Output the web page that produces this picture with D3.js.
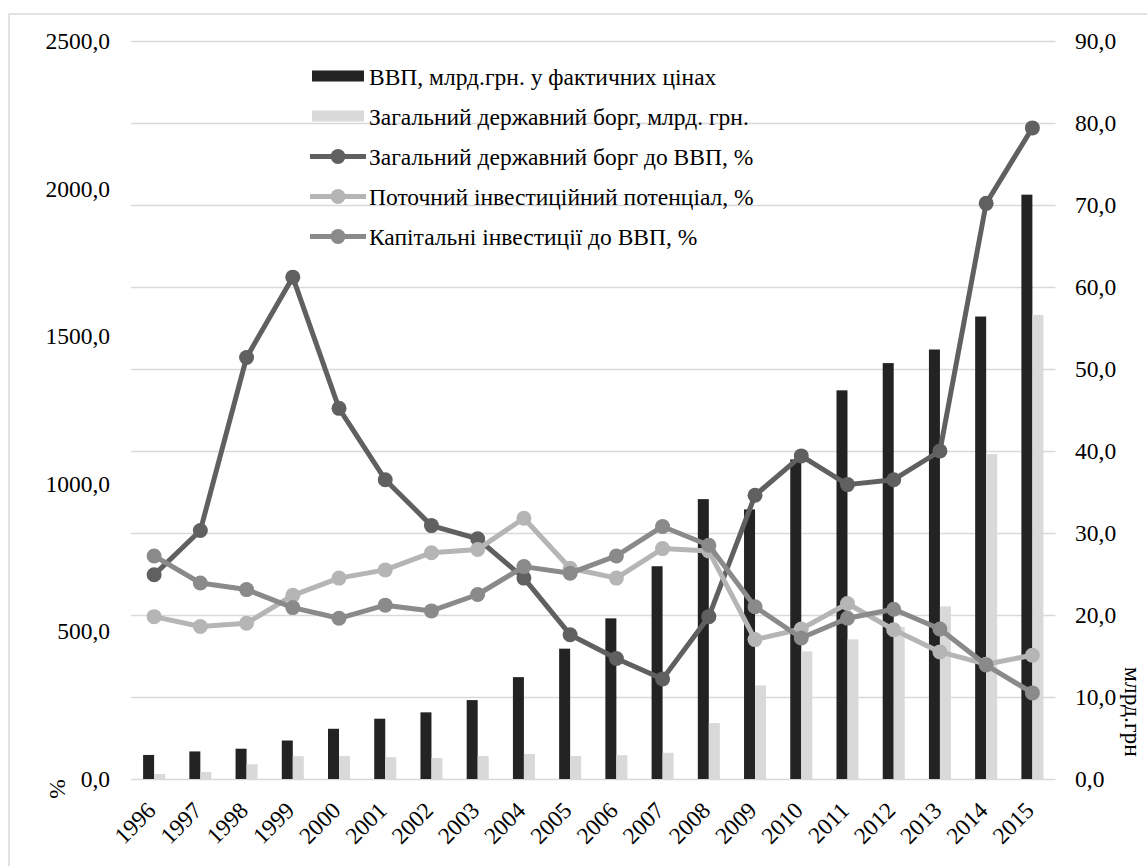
<!DOCTYPE html>
<html>
<head>
<meta charset="utf-8">
<script src="https://cdn.jsdelivr.net/npm/d3@7"></script>
<style>
  html, body { margin: 0; padding: 0; background: #fff; }
  svg { display: block; }
  text { font-family: "Liberation Serif", "Times New Roman", "DejaVu Serif", serif; fill: #000; }
</style>
</head>
<body>
<svg id="chart" width="1147" height="866"></svg>
<script>
// Years on the category axis
const years = ["1996","1997","1998","1999","2000","2001","2002","2003","2004","2005",
               "2006","2007","2008","2009","2010","2011","2012","2013","2014","2015"];

// Bars, left axis (млрд грн)
const gdp  = [81.5, 93.4, 102.6, 130.4, 170.1, 204.2, 225.8, 267.3, 345.1, 441.5,
              544.2, 720.7, 948.1, 913.3, 1082.6, 1316.6, 1408.9, 1454.9, 1566.7, 1979.5];
const debt = [17.0, 24.0, 50.0, 77.5, 77.5, 74.0, 71.0, 77.7, 84.8, 78.0,
              80.5, 88.7, 189.4, 316.9, 432.2, 473.1, 515.5, 584.8, 1100.8, 1572.2];

// Lines, right axis (%)
const debtToGdp = [24.9, 30.3, 51.4, 61.2, 45.2, 36.5, 30.9, 29.3, 24.5, 17.6,
                   14.7, 12.2, 19.8, 34.6, 39.4, 35.9, 36.5, 40.0, 70.2, 79.4];
const investPotential = [19.8, 18.6, 19.0, 22.4, 24.5, 25.5, 27.6, 28.0, 31.8, 25.7,
                         24.5, 28.1, 27.8, 17.0, 18.3, 21.4, 18.2, 15.5, 14.0, 15.1];
const capitalInvest = [27.2, 23.9, 23.1, 20.9, 19.6, 21.2, 20.5, 22.5, 25.9, 25.1,
                       27.2, 30.8, 28.5, 21.0, 17.2, 19.6, 20.7, 18.3, 13.9, 10.5];

// Axis ticks
const leftTicks  = [0, 500, 1000, 1500, 2000, 2500];
const rightTicks = [0, 10, 20, 30, 40, 50, 60, 70, 80, 90];

// Legend labels
const barNames  = ["ВВП, млрд.грн. у фактичних цінах", "Загальний державний борг, млрд. грн."];
const lineNames = ["Загальний державний борг до ВВП, %", "Поточний інвестиційний потенціал, %",
                   "Капітальні інвестиції до ВВП, %"];

const barColors  = ["#232323", "#d9d9d9"];
const lineColors = ["#606060", "#b5b5b5", "#8a8a8a"];

const svg = d3.select("#chart");
const plot = { left: 131, right: 1055.5, top: 41, bottom: 779 };
const fs = 23.5;
const serif = '"Liberation Serif", "Times New Roman", "DejaVu Serif", serif';

// outer frame
svg.append("rect")
  .attr("x", 9).attr("y", 14).attr("width", 1160).attr("height", 880)
  .attr("fill", "none").attr("stroke", "#d9d9d9").attr("stroke-width", 1.5);

const x = d3.scaleBand().domain(years).range([plot.left, plot.right]).paddingInner(0).paddingOuter(0);
const yL = d3.scaleLinear().domain([0, 2500]).range([plot.bottom, plot.top]);
const yR = d3.scaleLinear().domain([0, 90]).range([plot.bottom, plot.top]);

// gridlines follow the right axis
svg.append("g")
  .attr("transform", `translate(${plot.left},0)`)
  .call(d3.axisLeft(yR).tickValues(rightTicks).tickSize(-(plot.right - plot.left)).tickFormat(""))
  .call(g => g.select(".domain").remove())
  .call(g => g.selectAll("line").attr("stroke", "#d9d9d9").attr("stroke-width", 1.5));

const fmt = v => d3.format(".1f")(v).replace(".", ",");

// left axis labels
svg.append("g")
  .attr("transform", `translate(110,0)`)
  .call(d3.axisLeft(yL).tickValues(leftTicks).tickSize(0).tickPadding(0).tickFormat(fmt))
  .attr("font-family", serif)
  .call(g => g.select(".domain").remove())
  .call(g => g.selectAll("text").attr("font-size", fs).attr("fill", "#000"));

// right axis labels
svg.append("g")
  .attr("transform", `translate(1075,0)`)
  .call(d3.axisRight(yR).tickValues(rightTicks).tickSize(0).tickPadding(0).tickFormat(fmt))
  .attr("font-family", serif)
  .call(g => g.select(".domain").remove())
  .call(g => g.selectAll("text").attr("font-size", fs).attr("fill", "#000"));

// bars
const bw = 11;
const barSeries = [gdp, debt];
barSeries.forEach((vals, s) => {
  svg.append("g").selectAll("rect").data(vals).join("rect")
    .attr("x", (d, i) => x(years[i]) + x.bandwidth() / 2 - bw + s * bw)
    .attr("width", bw)
    .attr("y", d => yL(d))
    .attr("height", d => yL(0) - yL(d))
    .attr("fill", barColors[s]);
});

// lines with markers
const lineSeries = [debtToGdp, investPotential, capitalInvest];
const cx = i => x(years[i]) + x.bandwidth() / 2;
lineSeries.forEach((vals, s) => {
  const line = d3.line().x((d, i) => cx(i)).y(d => yR(d));
  svg.append("path").datum(vals)
    .attr("d", line).attr("fill", "none")
    .attr("stroke", lineColors[s]).attr("stroke-width", 5).attr("stroke-linejoin", "round");
  svg.append("g").selectAll("circle").data(vals).join("circle")
    .attr("cx", (d, i) => cx(i)).attr("cy", d => yR(d)).attr("r", 7.5)
    .attr("fill", lineColors[s]);
});

// category labels, rotated
svg.append("g").selectAll("text").data(years).join("text")
  .attr("transform", d => `translate(${x(d) + x.bandwidth() / 2 + 3},${plot.bottom + 33}) rotate(-45)`)
  .attr("text-anchor", "end")
  .attr("font-size", fs)
  .text(d => d);

// axis titles
svg.append("text")
  .attr("transform", `translate(65,789) rotate(-90)`)
  .attr("text-anchor", "middle")
  .attr("font-size", fs)
  .text("%");
svg.append("text")
  .attr("transform", `translate(1125,712) rotate(90)`)
  .attr("text-anchor", "middle")
  .attr("font-size", fs)
  .text("млрд.грн");

// legend
const legRows = [76, 116, 156.5, 196.5, 236.5];
const lg = svg.append("g");
barNames.forEach((name, i) => {
  lg.append("rect").attr("x", 312).attr("y", legRows[i] - 5.5).attr("width", 52).attr("height", 11)
    .attr("fill", barColors[i]);
  lg.append("text").attr("x", 369).attr("y", legRows[i] + 8.5).attr("font-size", fs).text(name);
});
lineNames.forEach((name, i) => {
  const yy = legRows[i + 2];
  lg.append("line").attr("x1", 310).attr("x2", 366).attr("y1", yy).attr("y2", yy)
    .attr("stroke", lineColors[i]).attr("stroke-width", 5);
  lg.append("circle").attr("cx", 338).attr("cy", yy).attr("r", 7.5).attr("fill", lineColors[i]);
  lg.append("text").attr("x", 369).attr("y", yy + 8.5).attr("font-size", fs).text(name);
});
</script>
</body>
</html>
